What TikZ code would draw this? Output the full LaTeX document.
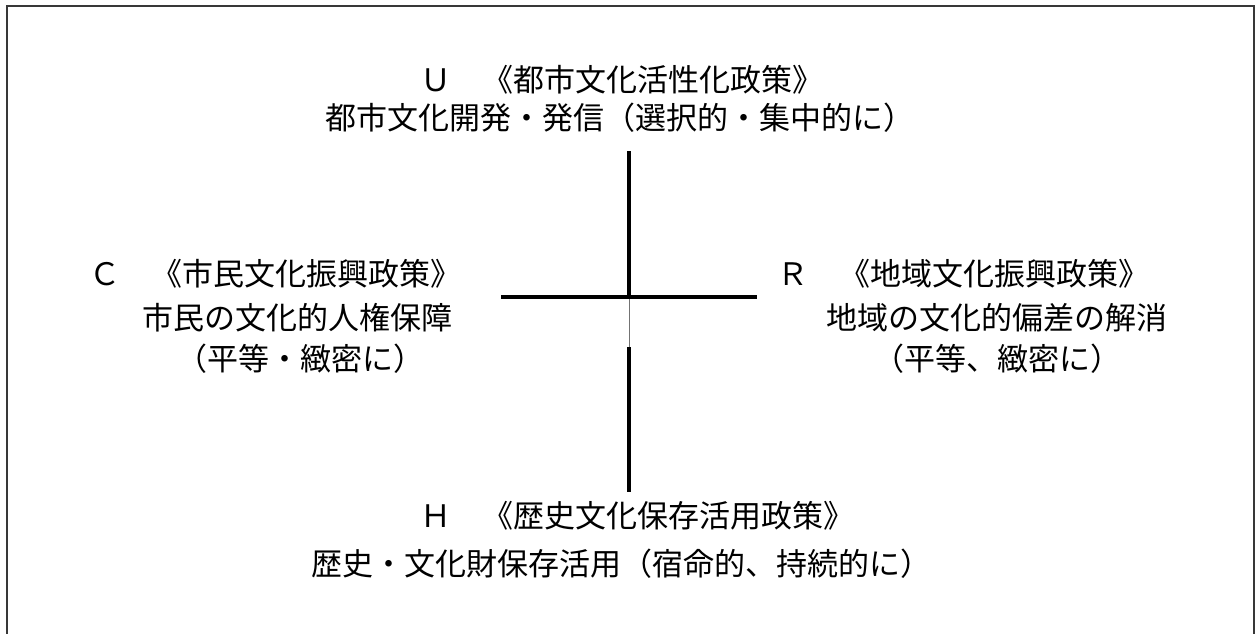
\documentclass[tikz,border=0pt]{standalone}
\usepackage{fontspec}
\newfontfamily\jp{Noto Sans CJK JP}
\begin{document}
\begin{tikzpicture}[x=1pt,y=-1pt,
  big/.style={font=\jp\fontsize{31}{31}\selectfont, inner sep=0pt, anchor=west},
  axisline/.style={line width=3.6pt, black},
  thinaxis/.style={line width=1.3pt, black!55},
  frameline/.style={draw=black!78, line width=2pt}]
\useasboundingbox (0,0) rectangle (1255,633);
% frame (bottom edge lies outside the picture)
\draw[frameline] (7,645) -- (7,6) -- (1254,6) -- (1254,645);
% cross
\coordinate (vtop) at (629,151);
\coordinate (cen) at (629,297);
\coordinate (vmid) at (629,347);
\coordinate (vbot) at (629,492);
\coordinate (hl) at (501,297);
\coordinate (hr) at (757,297);
\draw[axisline] (vtop) -- (cen);
\draw[thinaxis] ([xshift=0.8pt]cen) -- ([xshift=0.8pt]vmid);
\draw[axisline] (vmid) -- (vbot);
\draw[axisline] (hl) -- (hr);
% texts
\node[big] (u1) at (420,80) {Ｕ　《都市文化活性化政策》};
\node[big] (u2) at (325,118) {都市文化開発・発信（選択的・集中的に）};
\node[big] (c1) at (89,274) {Ｃ　《市民文化振興政策》};
\node[big] (c2) at (142,318) {市民の文化的人権保障};
\node[big] (c3) at (176,359) {（平等・緻密に）};
\node[big] (r1) at (777,274) {Ｒ　《地域文化振興政策》};
\node[big] (r2) at (826,318) {地域の文化的偏差の解消};
\node[big] (r3) at (873,359) {（平等、緻密に）};
\node[big] (h1) at (420,516) {Ｈ　《歴史文化保存活用政策》};
\node[big] (h2) at (311,564) {歴史・文化財保存活用（宿命的、持続的に）};
\end{tikzpicture}
\end{document}
